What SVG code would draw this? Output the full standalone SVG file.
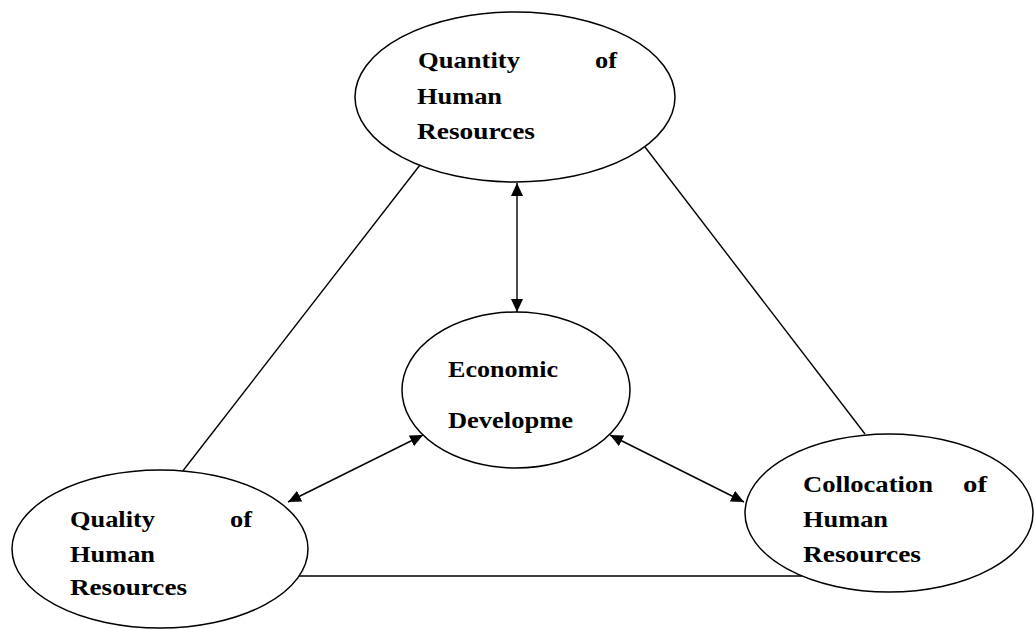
<svg xmlns="http://www.w3.org/2000/svg" width="1035" height="630" viewBox="0 0 1035 630">
<style>
.node ellipse{fill:#fff;stroke:#000;stroke-width:1.5}
.lbl{font-family:"Liberation Serif","Times New Roman",serif;font-weight:bold;font-size:23px;fill:#000}
.conn{stroke:#000;stroke-width:1.4;fill:none}
</style>
<defs>
<marker id="ah" markerUnits="userSpaceOnUse" markerWidth="14" markerHeight="12" refX="13" refY="6" orient="auto-start-reverse">
<path d="M0,0 L13,6 L0,12 Z" fill="#000"/>
</marker>
</defs>
<rect width="1035" height="630" fill="#fff"/>
<g id="connectors">
<line class="conn" x1="420" y1="165" x2="182" y2="472"/>
<line class="conn" x1="645" y1="147" x2="865" y2="434"/>
<line class="conn" x1="299" y1="576" x2="802" y2="576"/>
<line class="conn" x1="517" y1="183" x2="517" y2="312" marker-start="url(#ah)" marker-end="url(#ah)"/>
<line class="conn" x1="423" y1="435" x2="288" y2="502" marker-start="url(#ah)" marker-end="url(#ah)"/>
<line class="conn" x1="610" y1="435" x2="744" y2="502" marker-start="url(#ah)" marker-end="url(#ah)"/>
</g>
<g id="quantity" class="node">
<ellipse cx="515" cy="97" rx="160" ry="85"/>
<text class="lbl" x="418" y="68" textLength="102" lengthAdjust="spacingAndGlyphs">Quantity</text>
<text class="lbl" x="595" y="68" textLength="22" lengthAdjust="spacingAndGlyphs">of</text>
<text class="lbl" x="417" y="104" textLength="85" lengthAdjust="spacingAndGlyphs">Human</text>
<text class="lbl" x="417" y="139" textLength="118" lengthAdjust="spacingAndGlyphs">Resources</text>
</g>
<g id="economic" class="node">
<ellipse cx="516" cy="390" rx="114" ry="78"/>
<text class="lbl" x="448" y="377" textLength="110" lengthAdjust="spacingAndGlyphs">Economic</text>
<text class="lbl" x="448" y="428" textLength="125" lengthAdjust="spacingAndGlyphs">Developme</text>
</g>
<g id="quality" class="node">
<ellipse cx="160" cy="549" rx="148" ry="79"/>
<text class="lbl" x="70" y="527" textLength="85" lengthAdjust="spacingAndGlyphs">Quality</text>
<text class="lbl" x="230" y="527" textLength="22" lengthAdjust="spacingAndGlyphs">of</text>
<text class="lbl" x="70" y="562" textLength="85" lengthAdjust="spacingAndGlyphs">Human</text>
<text class="lbl" x="70" y="595" textLength="117" lengthAdjust="spacingAndGlyphs">Resources</text>
</g>
<g id="collocation" class="node">
<ellipse cx="889" cy="513" rx="144" ry="79"/>
<text class="lbl" x="803" y="492" textLength="130" lengthAdjust="spacingAndGlyphs">Collocation</text>
<text class="lbl" x="963" y="492" textLength="24" lengthAdjust="spacingAndGlyphs">of</text>
<text class="lbl" x="803" y="527" textLength="85" lengthAdjust="spacingAndGlyphs">Human</text>
<text class="lbl" x="803" y="562" textLength="118" lengthAdjust="spacingAndGlyphs">Resources</text>
</g>
</svg>
